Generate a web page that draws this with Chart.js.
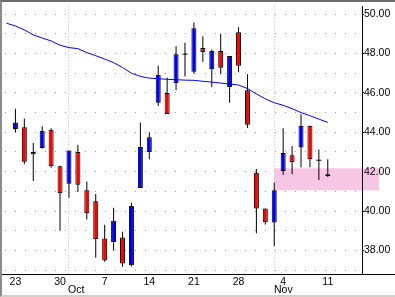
<!DOCTYPE html>
<html>
<head>
<meta charset="utf-8">
<script src="https://cdn.jsdelivr.net/npm/chart.js@4.4.0/dist/chart.umd.min.js"></script>
<style>
  html, body { margin: 0; padding: 0; background: #fff; }
  #wrap { position: relative; width: 395px; height: 297px; }
  #frame {
    position: absolute; left: 0; top: 0; width: 395px; height: 297px; box-sizing: border-box;
    border-top: 2px solid #6d6d6d; border-left: 2px solid #8c8c8c; border-bottom: 2px solid #d4d0c8;
    pointer-events: none;
  }
</style>
</head>
<body>
<div id="wrap">
  <canvas id="canvas" width="395" height="297"></canvas>
  <div id="frame"></div>
</div>
<script>
// x axis: one slot per trading day, 0 = Sep 23
const dayTicks = [0, 5, 10, 15, 20, 25, 30, 35];
const dayLabels = ['23', '30', '7', '14', '21', '28', '4', '11'];
const monthStarts = [6, 29];
const monthLabels = ['Oct', 'Nov'];

const opens  = [44.17, 44.25, 43.0, 43.2, 44.13, 42.28, 41.38, 43.0, 41.05, 40.5,
                38.6, 38.43, 38.65, 37.25, 41.17, 43.0, 45.5, 46.0, 46.5, 47.97,
                47.08, 48.28, 47.2, 48.13, 46.3, 49.08, 46.13, 41.95, 40.13, 39.42,
                42.03, 42.83, 43.23, 44.33, 42.58, 41.87];
const highs  = [45.2, 44.7, 43.45, 44.3, 44.2, 42.3, 43.08, 43.37, 41.5, 40.87,
                39.3, 40.17, 38.95, 40.42, 44.5, 44.0, 47.38, 46.78, 48.37, 48.55,
                49.58, 48.88, 48.2, 49.0, 47.88, 49.33, 46.95, 42.13, 40.13, 41.45,
                44.2, 43.3, 44.92, 44.33, 43.13, 42.63];
const lows   = [44.0, 42.37, 41.53, 43.17, 42.2, 39.0, 40.67, 40.97, 39.57, 37.62,
                37.42, 38.0, 37.17, 37.2, 41.17, 42.63, 45.33, 44.93, 46.13, 46.83,
                46.97, 47.58, 46.3, 46.95, 45.5, 47.05, 44.22, 38.87, 39.32, 38.22,
                41.83, 41.87, 42.22, 42.22, 41.58, 41.73];
const closes = [44.5, 42.5, 42.88, 44.08, 42.28, 40.9, 43.08, 41.33, 39.88, 38.58,
                37.48, 39.5, 37.33, 40.25, 43.25, 43.75, 46.92, 44.93, 47.97, 47.97,
                49.28, 48.08, 48.13, 47.28, 47.88, 47.38, 44.38, 40.13, 39.43, 41.05,
                42.95, 42.48, 44.33, 42.63, 42.58, 41.78];

// moving average, first value sits one day before Sep 23
const maStart = -1;
const maValues = [49.54, 49.4, 49.2, 48.95, 48.79, 48.64, 48.42, 48.3, 48.25, 48.05,
                  47.89, 47.72, 47.54, 47.29, 47.0, 46.84, 46.75, 46.72, 46.69, 46.67,
                  46.65, 46.64, 46.59, 46.55, 46.5, 46.45, 46.4, 46.22, 45.95, 45.7,
                  45.5, 45.37, 45.2, 45.0, 44.84, 44.67, 44.5];

const yLabels = [38, 40, 42, 44, 46, 48, 50];

// pink support band
const zoneStart = 29;
const zoneHigh = 42.17;
const zoneLow = 41.05;

const FONT = '"Liberation Sans", Arial, sans-serif';

const wicks = highs.map((h, i) => ({ x: i, y: [lows[i], h] }));
const bodies = [];
const bodyColors = [];
const dojis = [];
opens.forEach((o, i) => {
  if (o === closes[i]) {
    dojis.push({ x: i, y: o });
    return;
  }
  bodies.push({ x: i, y: [o, closes[i]] });
  bodyColors.push(closes[i] > o ? '#0000ff' : '#ff0000');
});
const ma = maValues.map((v, i) => ({ x: maStart + i, y: v }));

const overlay = {
  id: 'overlay',
  beforeDatasetsDraw(chart) {
    const { ctx, chartArea: a, scales: { x, y } } = chart;
    ctx.save();
    // month separators
    ctx.strokeStyle = '#bdbdbd';
    ctx.lineWidth = 1;
    ctx.setLineDash([1, 2]);
    monthStarts.forEach(m => {
      const px = Math.floor(x.getPixelForValue(m)) + 0.5;
      ctx.beginPath();
      ctx.moveTo(px, a.top);
      ctx.lineTo(px, a.bottom);
      ctx.stroke();
    });
    ctx.setLineDash([]);

    ctx.fillStyle = '#f7c6e4';
    const x0 = Math.floor(x.getPixelForValue(zoneStart));
    const y0 = y.getPixelForValue(zoneHigh);
    const y1 = y.getPixelForValue(zoneLow);
    ctx.fillRect(x0, y0, a.right + 17 - x0, y1 - y0);

    // base line runs the full width
    ctx.strokeStyle = '#000';
    ctx.beginPath();
    ctx.moveTo(0, a.bottom + 0.5);
    ctx.lineTo(chart.width, a.bottom + 0.5);
    ctx.stroke();

    ctx.fillStyle = '#000';
    ctx.font = '10.5px ' + FONT;
    ctx.textBaseline = 'middle';
    ctx.textAlign = 'left';
    monthStarts.forEach((m, i) => {
      ctx.fillText(monthLabels[i], Math.floor(x.getPixelForValue(m)), a.bottom + 16);
    });
    ctx.restore();
  }
};

new Chart(document.getElementById('canvas'), {
  type: 'bar',
  data: {
    datasets: [
      { type: 'line', data: ma, borderColor: '#0000ff', borderWidth: 1, pointRadius: 0, tension: 0, fill: false },
      { type: 'scatter', data: dojis, pointStyle: 'line', pointRadius: 2.5, borderColor: '#000', borderWidth: 1 },
      { type: 'bar', data: bodies, backgroundColor: bodyColors, borderColor: '#000', borderWidth: 1,
        borderSkipped: false, barThickness: 5, grouped: false, inflateAmount: 0 },
      { type: 'bar', data: wicks, backgroundColor: '#000', barThickness: 1, grouped: false, inflateAmount: 0 }
    ]
  },
  options: {
    responsive: false,
    devicePixelRatio: 1,
    animation: false,
    layout: { padding: { top: 2, left: 2, right: 0, bottom: 0 } },
    plugins: { legend: { display: false }, tooltip: { enabled: false } },
    scales: {
      x: {
        type: 'linear',
        offset: false,
        min: -1.16667,
        max: 38.83333,
        afterBuildTicks: s => { s.ticks = dayTicks.map(v => ({ value: v })); },
        afterFit: s => { s.height = 23; },
        grid: { display: false, drawTicks: false, offset: false },
        border: { display: false },
        ticks: {
          autoSkip: false, maxRotation: 0, padding: 2, color: '#000',
          font: { family: FONT, size: 10.5 },
          callback: v => { const k = dayTicks.indexOf(v); return k < 0 ? '' : dayLabels[k]; }
        }
      },
      y: {
        position: 'right',
        min: 36.8,
        max: 50.4,
        afterFit: s => { s.width = 33; },
        grid: {
          color: '#9a9a9a', tickLength: 2, tickWidth: 1, tickBorderDash: [],
          tickColor: c => yLabels.includes(c.tick && c.tick.value) ? '#000' : 'rgba(0,0,0,0)'
        },
        border: { display: true, color: '#000', width: 1, dash: [1, 9], z: 1 },
        ticks: {
          stepSize: 1, includeBounds: false, autoSkip: false, padding: 0, color: '#000', z: 1,
          font: { family: FONT, size: 10.5 },
          callback: v => yLabels.includes(v) ? v.toFixed(2) : ''
        }
      }
    }
  },
  plugins: [overlay]
});
</script>
</body>
</html>
